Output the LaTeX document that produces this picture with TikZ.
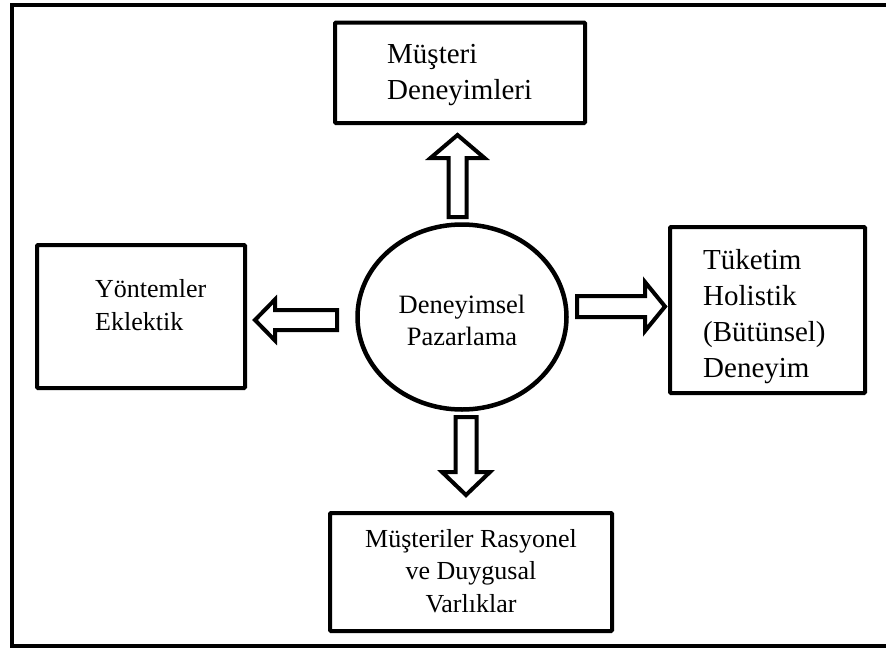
\documentclass[tikz,border=0pt]{standalone}
\usepackage{fontspec}
\setmainfont{Liberation Serif}
\usetikzlibrary{shapes.geometric}

\tikzset{
  box/.style={draw, line width=4pt, rectangle, rounded corners=1pt, inner sep=0pt},
  oval/.style={draw, line width=4.5pt, ellipse, inner sep=0pt},
  blockarrow/.style={draw, line width=4pt, line join=miter, fill=white},
  frame/.style={draw, line width=4pt},
  bigtxt/.style={inner sep=0pt, font=\fontsize{29pt}{36pt}\selectfont},
  smalltxt/.style={inner sep=0pt, font=\fontsize{26pt}{32.5pt}\selectfont},
}

\begin{document}
\begin{tikzpicture}[x=1pt, y=-1pt]
  \useasboundingbox (0,0) rectangle (886,648);

  % outer frame (its right side runs past the page edge)
  \draw[frame] (892,4.5) -- (12,4.5) -- (12,646) -- (892,646);

  % boxes
  \node[box, minimum width=250pt, minimum height=100.5pt] (top) at (460,72.75) {};
  \node[box, minimum width=208pt, minimum height=143pt] (left) at (141,316.5) {};
  \node[box, minimum width=195pt, minimum height=166pt] (right) at (767.5,310) {};
  \node[box, minimum width=282pt, minimum height=118pt] (bottom) at (471,572) {};
  \node[oval, minimum width=209pt, minimum height=185pt] (center) at (462,317) {};

  % texts (base anchor sits on the last line)
  \node[bigtxt, anchor=base west, align=left] (toptxt) at (387,99) {Müşteri\\Deneyimleri};
  \node[smalltxt, anchor=base west, align=left, font=\fontsize{26pt}{33pt}\selectfont] (lefttxt) at (95,330) {Yöntemler\\Eklektik};
  \node[bigtxt, anchor=base west, align=left, font=\fontsize{29pt}{35.7pt}\selectfont] (righttxt) at (703,377) {Tüketim\\Holistik\\(Bütünsel)\\Deneyim};
  \node[smalltxt, anchor=base, align=center] (bottomtxt) at (471,612) {Müşteriler Rasyonel\\ve Duygusal\\Varlıklar};
  \node[smalltxt, anchor=base, align=center, font=\fontsize{26.5pt}{32pt}\selectfont] (centertxt) at (462,345) {Deneyimsel\\Pazarlama};

  % block arrows from the centre outwards
  \draw[blockarrow] (448.5,217) -- (448.5,158) -- (430.5,158) -- (457.5,135)
    -- (484.5,158) -- (466.5,158) -- (466.5,217) -- cycle;
  \draw[blockarrow] (337,310) -- (275,310) -- (275,299.5) -- (255,320)
    -- (275,340.5) -- (275,330) -- (337,330) -- cycle;
  \draw[blockarrow] (577,296) -- (645,296) -- (645,282) -- (665,306.5)
    -- (645,331) -- (645,317) -- (577,317) -- cycle;
  \draw[blockarrow] (455.5,417) -- (455.5,472) -- (442,472) -- (466,495)
    -- (490,472) -- (476.5,472) -- (476.5,417) -- cycle;
\end{tikzpicture}
\end{document}
